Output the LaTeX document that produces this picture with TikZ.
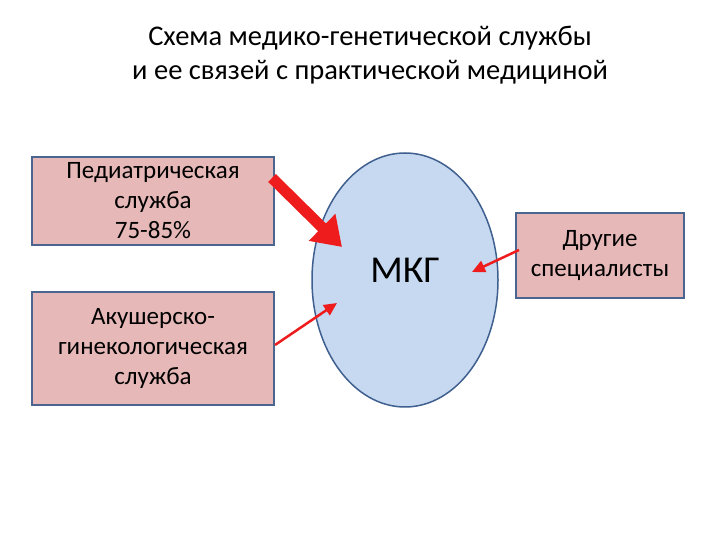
\documentclass[tikz,border=0pt]{standalone}
\usepackage{fontspec}
\setmainfont{Carlito}
\usetikzlibrary{arrows.meta,shapes.geometric}
\definecolor{boxfill}{HTML}{E6B9B8}
\definecolor{boxline}{HTML}{4A6590}
\definecolor{ellfill}{HTML}{C6D9F1}
\definecolor{ellline}{HTML}{3F5F8F}
\definecolor{arr}{HTML}{EE1C1C}
\tikzset{
 sbox/.style={draw=boxline,line width=1.5pt,fill=boxfill,align=center,font=\fontsize{25}{30}\selectfont,inner sep=0pt},
 thinarr/.style={draw=arr,line width=2.5pt,-{Triangle[length=13pt,width=12pt]}},
}
\begin{document}
\begin{tikzpicture}[x=1pt,y=1pt]
\useasboundingbox (0,0) rectangle (720,540);
\node[font=\fontsize{28.5}{34}\selectfont,align=center] (title) at (370,485) {Схема медико-генетической службы\\и ее связей с практической медициной};
\node[sbox,minimum width=242pt,minimum height=88pt] (ped) at (153,339) {Педиатрическая\\служба\\75-85\%};
\node[sbox,minimum width=242pt,minimum height=113pt] (akush) at (153,191.5) {Акушерско-\\гинекологическая\\служба};
\node[sbox,minimum width=168pt,minimum height=85pt] (drug) at (600,284.5) {Другие\\специалисты};
\node[ellipse,draw=ellline,line width=1.5pt,fill=ellfill,minimum width=186pt,minimum height=254pt] (mkg) at (405,260) {};
\node[font=\fontsize{38}{42}\selectfont] (mkgt) at (405,270) {МКГ};
\coordinate (a1s) at (272,362);
\coordinate (a1e) at (342,293);
\draw[draw=arr,line width=11pt,-{Triangle[length=28pt,width=36pt]}] (a1s) -- (a1e);
\coordinate (a2s) at (275,195);
\coordinate (a2e) at (337,237);
\draw[thinarr] (a2s) -- (a2e);
\coordinate (a3s) at (519,290);
\coordinate (a3e) at (472,268);
\draw[thinarr] (a3s) -- (a3e);
\end{tikzpicture}
\end{document}
